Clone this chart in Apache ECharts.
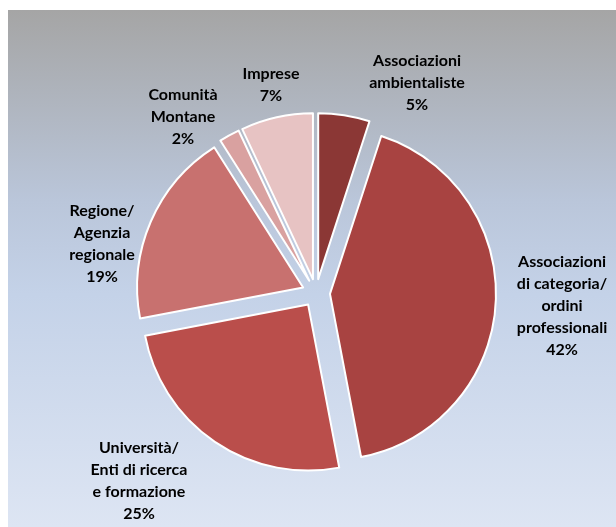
<!DOCTYPE html>
<html>
<head>
<meta charset="utf-8">
<script src="https://cdn.jsdelivr.net/npm/echarts@6/dist/echarts.min.js"></script>
<style>
html,body{margin:0;padding:0;background:#fff;}
#chart{width:616px;height:527px;}
</style>
</head>
<body>
<div id="chart"></div>
<script>
const categories = [
  "Associazioni\nambientaliste",
  "Associazioni\ndi categoria/\nordini\nprofessionali",
  "Università/\nEnti di ricerca\ne formazione",
  "Regione/\nAgenzia\nregionale",
  "Comunità\nMontane",
  "Imprese"
];
const values = [5, 42, 25, 19, 2, 7];
const colors = ["#8b3735", "#a84341", "#ba4e4b", "#c8716f", "#d9a1a0", "#e7c3c3"];

// label box centres (layout only)
const labelCenters = [[417, 83], [562, 306], [139, 481], [102, 244], [183, 117], [271, 85]];

const chart = echarts.init(document.getElementById('chart'), null, {renderer: 'canvas'});
const sliceData = categories.map((c, i) => ({
  name: c, value: values[i], selected: true,
  itemStyle: {color: colors[i]}
}));
const labelData = categories.map((c, i) => ({name: c, value: values[i]}));
chart.setOption({
  animation: false,
  graphic: [{
    type: 'rect', z: -10, silent: true,
    shape: {x: 8, y: 10, width: 608, height: 517},
    style: {fill: {type: 'linear', x: 0, y: 0, x2: 0, y2: 1, colorStops: [
      {offset: 0, color: '#a5a5a5'},
      {offset: 0.37, color: '#bac6da'},
      {offset: 0.55, color: '#c4d2e8'},
      {offset: 1, color: '#dde5f3'}
    ]}}
  }],
  series: [{
    type: 'pie',
    center: [316, 293],
    radius: [0, 166],
    startAngle: 90,
    clockwise: true,
    selectedMode: 'multiple',
    selectedOffset: 14,
    itemStyle: {borderColor: '#ffffff', borderWidth: 2},
    label: {show: false},
    labelLine: {show: false},
    emphasis: {disabled: true},
    data: sliceData
  }, {
    type: 'pie',
    center: [316, 293],
    radius: [0, 166],
    startAngle: 90,
    clockwise: true,
    silent: true,
    percentPrecision: 0,
    itemStyle: {color: 'rgba(0,0,0,0)', borderWidth: 0},
    label: {
      show: true,
      position: 'outside',
      formatter: '{b}\n{d}%',
      fontFamily: 'Lato',
      fontWeight: 'bold',
      fontSize: 16,
      lineHeight: 22,
      color: '#000'
    },
    labelLine: {show: false, length: 4, length2: 0},
    labelLayout: function (p) {
      const c = labelCenters[p.dataIndex];
      return {x: c[0], y: c[1], align: 'center', verticalAlign: 'middle'};
    },
    emphasis: {disabled: true},
    data: labelData
  }]
});
</script>
</body>
</html>
